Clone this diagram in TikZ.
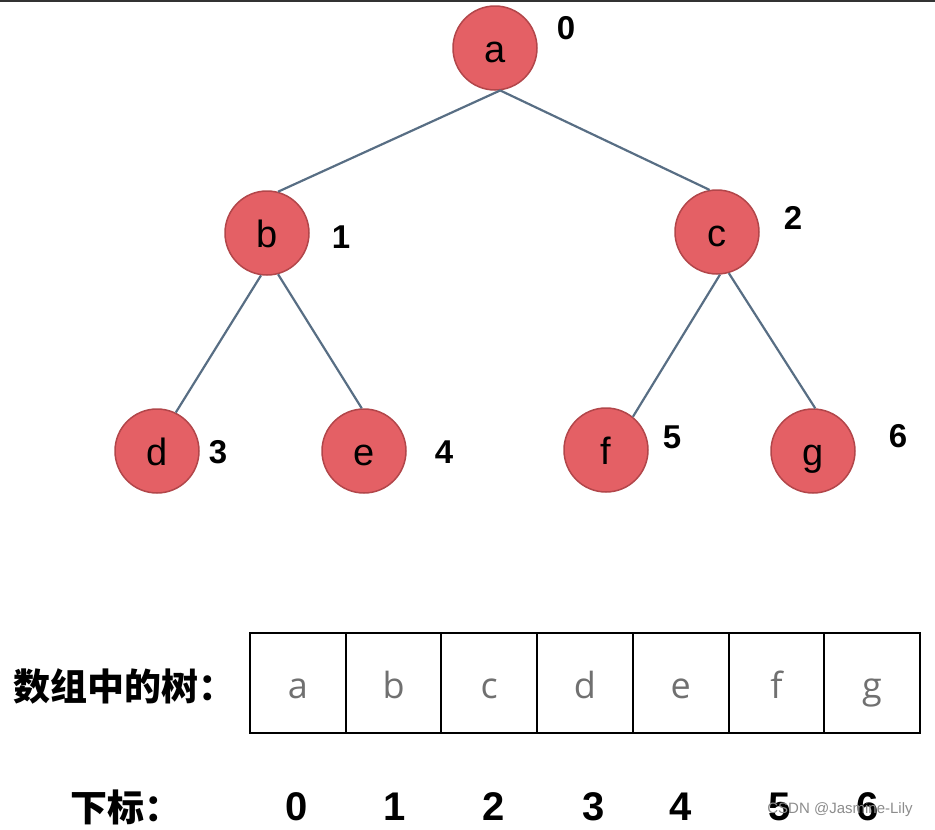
\documentclass[tikz,border=0pt]{standalone}
\usepackage{fontspec}
\setmainfont{Liberation Sans}
\newfontfamily\cjk{Noto Sans CJK SC}
\newfontfamily\cellfont{Open Sans}
\usepackage{xcolor}
\usepackage{tikz}
\usetikzlibrary{positioning}
\definecolor{nodered}{RGB}{228, 96, 101}
\definecolor{noderim}{RGB}{178, 70, 74}
\definecolor{edgeblue}{RGB}{88, 110, 132}
\definecolor{cellgray}{RGB}{112, 112, 112}

\begin{document}
\begin{tikzpicture}[x=1pt, y=-1pt,
    treenode/.style={circle, draw=noderim, fill=nodered, line width=1.5pt,
        minimum size=84pt, inner sep=0pt, text height=28pt, text depth=0pt,
        font=\fontsize{38}{40}\selectfont},
    idxlabel/.style={font=\bfseries\fontsize{33}{35}\selectfont},
    edge/.style={edgeblue, line width=2.2pt},
    cellbox/.style={draw=black, line width=2pt, minimum width=95.7pt,
        minimum height=100pt, inner sep=0pt, text=cellgray,
        text height=30pt, text depth=0pt,
        font=\cellfont\fontsize{36}{38}\selectfont},
    subscript/.style={font=\bfseries\fontsize{40}{42}\selectfont},
    cjklabel/.style={font=\cjk\bfseries\fontsize{37}{40}\selectfont}]
    \useasboundingbox (0,0) rectangle (935,830);

    % Top rule
    \draw[black!80, line width=2pt] (0,1) -- (935,1);

    % The tree
    \node[treenode] (a) at (495, 48) {a};
    \node[treenode] (b) at (267, 233) {b};
    \node[treenode] (c) at (717, 232) {c};
    \node[treenode] (d) at (157, 451) {d};
    \node[treenode] (e) at (364, 451) {e};
    \node[treenode] (f) at (606, 450) {f};
    \node[treenode] (g) at (813, 451) {g};

    % Edges
    \draw[edge] (a.-83) -- (b.75);
    \draw[edge] (a.-83) -- (c.100);
    \draw[edge] (b.262) -- (d.64);
    \draw[edge] (b.285) -- (e.93);
    \draw[edge] (c.274) -- (f.51);
    \draw[edge] (c.286) -- (g.87);

    % Index labels next to the nodes
    \node[idxlabel] (ia) at (566, 28) {0};
    \node[idxlabel] (ib) at (341, 237) {1};
    \node[idxlabel] (ic) at (793, 218) {2};
    \node[idxlabel] (id) at (218, 452) {3};
    \node[idxlabel] (ie) at (444, 452) {4};
    \node[idxlabel] (if) at (672, 437) {5};
    \node[idxlabel] (ig) at (898, 436) {6};

    % The array
    \node[cjklabel] (arrlabel) at (124, 686) {数组中的树：};
    \foreach \l [count=\i from 0] in {a,b,c,d,e,f,g} {
        \node[cellbox] (cell\i) at (250+47.85+95.7*\i, 683) {\l};
    }

    % Subscripts
    \node[cjklabel] (sublabel) at (126, 807) {下标：};
    \foreach \x/\i in {297/0, 395/1, 494/2, 594/3, 681/4, 780/5, 868/6} {
        \node[subscript] (sub\i) at (\x, 807) {\i};
    }

    % Watermark
    \node[black!45, font=\fontsize{15}{17}\selectfont] (mark) at (840, 810) {CSDN @Jasmine-Lily};
\end{tikzpicture}
\end{document}
